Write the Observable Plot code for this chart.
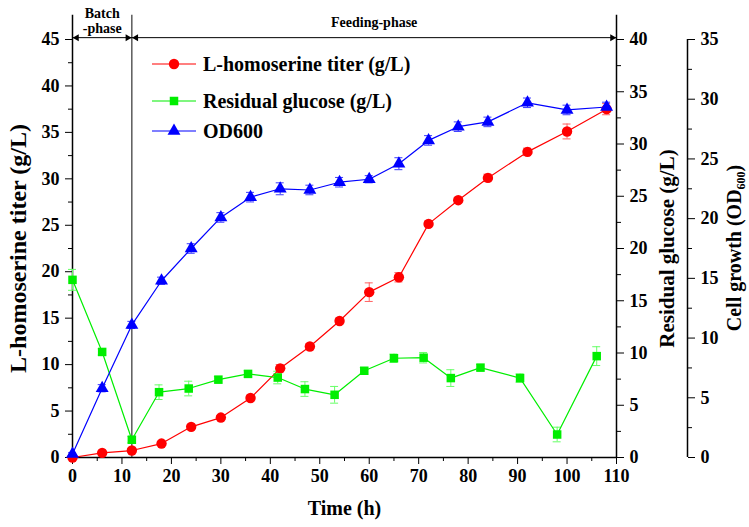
<!DOCTYPE html>
<html>
<head>
<meta charset="utf-8">
<script src="https://cdn.jsdelivr.net/npm/d3@7"></script>
<script src="https://cdn.jsdelivr.net/npm/@observablehq/plot@0.6"></script>
<style>
  body { margin: 0; background: white; }
  #chart { width: 749px; height: 527px; }
</style>
</head>
<body>
<div id="chart"></div>
<script>
// ---- data ----
const time = [0, 6, 12, 18, 24, 30, 36, 42, 48, 54, 60, 66, 72, 78, 84, 92, 100, 108];
const titer = [0, 0.5, 0.75, 1.5, 3.3, 4.3, 6.4, 9.6, 11.95, 14.7, 17.8, 19.4, 25.15, 27.7, 30.1, 32.9, 35.1, 37.5];
const titerErr = [0, 0.1, 0.1, 0.2, 0.2, 0.2, 0.3, 0.4, 0.3, 0.3, 1.0, 0.5, 0.3, 0.3, 0.4, 0.4, 0.8, 0.6];

const glucoseTime = [0, 6, 12, 17.5, 23.5, 29.5, 35.5, 41.5, 47, 53, 59, 65, 71, 76.5, 82.5, 90.5, 98, 106];
const glucose = [17.0, 10.1, 1.7, 6.25, 6.6, 7.45, 8.0, 7.65, 6.55, 6.0, 8.3, 9.5, 9.55, 7.6, 8.6, 7.6, 2.2, 9.7];
const glucoseErr = [1.0, 0.3, 0.3, 0.7, 0.7, 0.3, 0.3, 0.6, 0.7, 0.8, 0.3, 0.4, 0.5, 0.8, 0.3, 0.4, 0.7, 0.9];

const od = [0.3, 5.8, 11.1, 14.8, 17.5, 20.1, 21.8, 22.5, 22.4, 23.05, 23.3, 24.6, 26.55, 27.7, 28.1, 29.7, 29.1, 29.35];
const odErr = [0.1, 0.3, 0.3, 0.3, 0.4, 0.4, 0.4, 0.5, 0.4, 0.4, 0.3, 0.5, 0.4, 0.4, 0.4, 0.4, 0.4, 0.4];

const xTicks = d3.range(0, 111, 10);
const xMinor = d3.range(5, 110, 10);
const leftTicks = d3.range(0, 46, 5);
const glucoseTicks = d3.range(0, 41, 5);
const odTicks = d3.range(0, 36, 5);

const phases = [{label: ["Batch", "-phase"], start: 0, end: 12}, {label: ["Feeding-phase"], start: 12, end: 110}];
const legendItems = [
  {label: "L-homoserine titer (g/L)", color: "#ff0000", symbol: "circle"},
  {label: "Residual glucose (g/L)", color: "#00ee00", symbol: "square"},
  {label: "OD600", color: "#0000ff", symbol: "triangle"}
];

// ---- scale conversions of the secondary axes onto the left axis (0–45) ----
const LEFT_MAX = 45, GLU_MAX = 40, OD_MAX = 35;
const G = LEFT_MAX / GLU_MAX, O = LEFT_MAX / OD_MAX;

const titerData = time.map((t, i) => ({t, v: titer[i], e: titerErr[i]}));
const glucData = glucoseTime.map((t, i) => ({t, v: glucose[i] * G, e: glucoseErr[i] * G}));
const odData = time.map((t, i) => ({t, v: od[i] * O, e: odErr[i] * O}));

const RED = "#ff0000", GREEN = "#00ee00", BLUE = "#0000ff";
const TOP_EXT = 47.6; // vertical guide lines extend above the frame

function errMarks(data, color) {
  return [
    Plot.ruleX(data, {x: "t", y1: d => d.v - d.e, y2: d => d.v + d.e, stroke: color, strokeWidth: 1}),
    Plot.ruleY(data.filter(d => d.e > 0), {y: d => d.v + d.e, x1: "t", x2: "t", insetLeft: -4, insetRight: -4, stroke: color}),
    Plot.ruleY(data.filter(d => d.e > 0), {y: d => d.v - d.e, x1: "t", x2: "t", insetLeft: -4, insetRight: -4, stroke: color})
  ];
}

const font = "'Liberation Serif', 'Times New Roman', serif";

const chart = Plot.plot({
  width: 749,
  height: 527,
  marginLeft: 72,
  marginRight: 133,
  marginTop: 39,
  marginBottom: 70,
  x: {domain: [0, 110]},
  y: {domain: [0, LEFT_MAX]},
  style: {fontFamily: font, fontWeight: "bold", fontSize: "18px", background: "white", color: "black"},
  marks: [
    // axes
    Plot.axisX(xTicks, {tickSize: 7, tickPadding: 5, label: null, fontSize: 18}),
    Plot.axisX(xMinor, {tickSize: 4, text: null, label: null}),
    Plot.axisY(leftTicks, {tickSize: 7, tickPadding: 6, label: null, fontSize: 18}),
    Plot.axisY(d3.range(2.5, 45, 5), {tickSize: 4, text: null, label: null}),
    Plot.axisY(glucoseTicks.map(g => g * G), {anchor: "right", tickSize: 7, tickPadding: 6, label: null, fontSize: 18, tickFormat: d => Math.round(d / G)}),
    Plot.axisY(d3.range(2.5, 40, 5).map(g => g * G), {anchor: "right", tickSize: 4, text: null, label: null}),
    Plot.axisY(odTicks.map(o => o * O), {anchor: "right", dx: 71, tickSize: 7, tickPadding: 6, label: null, fontSize: 18, tickFormat: d => Math.round(d / O)}),
    Plot.axisY(d3.range(2.5, 35, 5).map(o => o * O), {anchor: "right", dx: 71, tickSize: 4, text: null, label: null}),
    Plot.ruleY([0], {stroke: "black", strokeWidth: 1.5}),
    Plot.ruleX([0, 110], {y1: 0, y2: TOP_EXT, stroke: "black", strokeWidth: 1.5}),
    Plot.ruleX([12], {y1: 0, y2: TOP_EXT, stroke: "#333", strokeWidth: 1.2}),
    Plot.ruleX([110], {y1: 0, y2: LEFT_MAX, dx: 71, stroke: "black", strokeWidth: 1.5}),

    // phase arrows
    Plot.link(phases, {x1: "start", x2: "end", y1: 45.2, y2: 45.2, stroke: "black", strokeWidth: 1}),
    Plot.dot(phases, {x: "start", y: 45.2, symbol: "triangle", r: 2.6, rotate: -90, dx: 4.2, fill: "black", stroke: "none"}),
    Plot.dot(phases, {x: "end", y: 45.2, symbol: "triangle", r: 2.6, rotate: 90, dx: -4.2, fill: "black", stroke: "none"}),
    Plot.text(phases.filter(p => p.label.length === 2), {x: d => (d.start + d.end) / 2, frameAnchor: "top", lineAnchor: "middle", dy: -26, text: d => d.label[0], fontSize: 14}),
    Plot.text(phases.filter(p => p.label.length === 2), {x: d => (d.start + d.end) / 2, frameAnchor: "top", lineAnchor: "middle", dy: -11, text: d => d.label[1], fontSize: 14}),
    Plot.text(phases.filter(p => p.label.length === 1), {x: d => (d.start + d.end) / 2, frameAnchor: "top", lineAnchor: "middle", dy: -17, text: d => d.label[0], fontSize: 14}),

    // error bars
    ...errMarks(titerData, "#ff6060"),
    ...errMarks(glucData, "#66ff66"),
    ...errMarks(odData, "#3a3aff"),

    // series lines
    Plot.line(titerData, {x: "t", y: "v", stroke: RED, strokeWidth: 1.2}),
    Plot.line(glucData, {x: "t", y: "v", stroke: GREEN, strokeWidth: 1.2}),
    Plot.line(odData, {x: "t", y: "v", stroke: BLUE, strokeWidth: 1.2}),

    // markers
    Plot.dot(titerData, {x: "t", y: "v", r: 5.2, fill: RED, symbol: "circle"}),
    Plot.dot(glucData, {x: "t", y: "v", r: 4.8, fill: GREEN, symbol: "square"}),
    Plot.dot(odData, {x: "t", y: "v", r: 4.8, fill: BLUE, symbol: "triangle"}),

    // axis titles
    Plot.text(["L-homoserine titer (g/L)"], {frameAnchor: "left", textAnchor: "middle", lineAnchor: "middle", dx: -54, rotate: -90, fontSize: 24}),
    Plot.text(["Time (h)"], {frameAnchor: "bottom", textAnchor: "middle", lineAnchor: "middle", dy: 51, fontSize: 20}),
    Plot.text(["Residual glucose (g/L)"], {frameAnchor: "right", textAnchor: "middle", lineAnchor: "middle", dx: 51, rotate: -90, fontSize: 21})
  ]
});

document.getElementById("chart").appendChild(chart);

// Cell growth title with subscript, and legend
const svg = d3.select(chart);
const t = svg.append("text")
  .attr("transform", "translate(734,248) rotate(-90)")
  .attr("text-anchor", "middle")
  .attr("dy", "0.35em")
  .attr("font-family", font).attr("font-weight", "bold").attr("font-size", 20)
  .attr("fill", "black");
t.append("tspan").text("Cell growth (OD");
t.append("tspan").text("600").attr("font-size", 12).attr("dy", 4);
t.append("tspan").text(")").attr("dy", -4);

const legendRows = [64, 101, 131];
const lg = svg.append("g");
legendItems.forEach((item, i) => {
  const y = legendRows[i];
  lg.append("line").attr("x1", 152).attr("x2", 196).attr("y1", y).attr("y2", y)
    .attr("stroke", item.color).attr("stroke-width", 1.2);
  const sym = {circle: d3.symbolCircle, square: d3.symbolSquare, triangle: d3.symbolTriangle}[item.symbol];
  const r = item.symbol === "circle" ? 5.2 : 4.8;
  lg.append("path").attr("d", d3.symbol(sym, Math.PI * r * r)())
    .attr("transform", `translate(174,${y})`).attr("fill", item.color);
  lg.append("text").attr("x", 203).attr("y", y).attr("dy", "0.35em")
    .attr("text-anchor", "start")
    .attr("font-family", font).attr("font-weight", "bold").attr("font-size", 20)
    .attr("fill", "black").text(item.label);
});
</script>
</body>
</html>
